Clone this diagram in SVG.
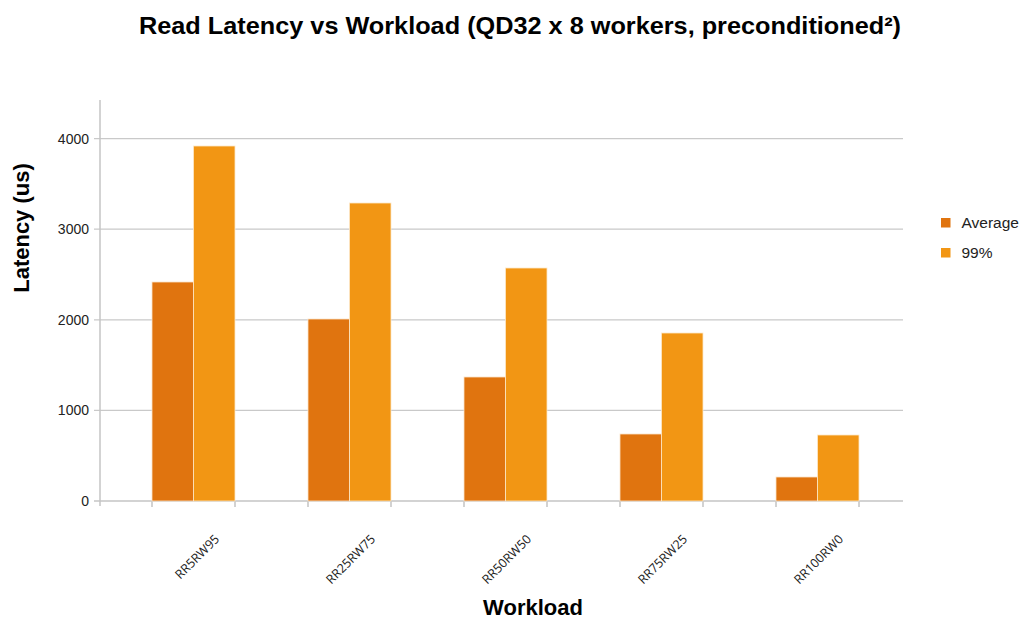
<svg xmlns="http://www.w3.org/2000/svg" width="1025" height="620" viewBox="0 0 1025 620">
<style>
.grid{stroke:#c9c9c9;stroke-width:1.3;fill:none}
.axis{stroke:#c4c4c4;stroke-width:1.5;fill:none}
.avg{fill:#e0740f;stroke:#fbe3c9;stroke-width:0.8}
.p99{fill:#f29614;stroke:#fde8c9;stroke-width:0.8}
.tick{font-family:"Liberation Sans",Arial,sans-serif;font-size:14px;fill:#222;text-anchor:end}
.cat{font-family:"Open Sans","Liberation Sans",sans-serif;font-size:12.5px;fill:#222;text-anchor:end}
.ttl{font-family:"Liberation Sans",Arial,sans-serif;font-weight:bold;fill:#000}
.leg{font-family:"Liberation Sans",Arial,sans-serif;font-size:15.5px;fill:#222}
</style>
<rect width="1025" height="620" fill="#fff"/>
<text class="ttl" x="520" y="34" font-size="24" text-anchor="middle" textLength="762" lengthAdjust="spacingAndGlyphs">Read Latency vs Workload (QD32 x 8 workers, preconditioned²)</text>
<g id="gridlines">
<line class="grid" x1="94" y1="138.6" x2="903" y2="138.6"/>
<line class="grid" x1="94" y1="229.2" x2="903" y2="229.2"/>
<line class="grid" x1="94" y1="319.8" x2="903" y2="319.8"/>
<line class="grid" x1="94" y1="410.4" x2="903" y2="410.4"/>
</g>
<g id="axes">
<line class="axis" x1="100" y1="100" x2="100" y2="506"/>
<line class="axis" x1="94" y1="501" x2="903" y2="501"/>
<path class="axis" d="M152 501v6M235 501v6M308 501v6M391 501v6M464 501v6M547 501v6M620 501v6M703 501v6M776 501v6M859 501v6"/>
</g>
<g id="yticks">
<text class="tick" x="89" y="143.6">4000</text>
<text class="tick" x="89" y="234.2">3000</text>
<text class="tick" x="89" y="324.8">2000</text>
<text class="tick" x="89" y="415.4">1000</text>
<text class="tick" x="89" y="506">0</text>
</g>
<g id="bars-average">
<rect class="avg" x="152" y="282" width="41.5" height="219"/>
<rect class="avg" x="308" y="319" width="41.5" height="182"/>
<rect class="avg" x="464" y="377" width="41.5" height="124"/>
<rect class="avg" x="620" y="434" width="41.5" height="67"/>
<rect class="avg" x="776" y="477" width="41.5" height="24"/>
</g>
<g id="bars-99">
<rect class="p99" x="193.5" y="146" width="41.5" height="355"/>
<rect class="p99" x="349.5" y="203" width="41.5" height="298"/>
<rect class="p99" x="505.5" y="268" width="41.5" height="233"/>
<rect class="p99" x="661.5" y="333" width="41.5" height="168"/>
<rect class="p99" x="817.5" y="435" width="41.5" height="66"/>
</g>
<g id="xlabels">
<text class="cat" transform="translate(220,540) rotate(-45)">RR5RW95</text>
<text class="cat" transform="translate(376,540) rotate(-45)">RR25RW75</text>
<text class="cat" transform="translate(532,540) rotate(-45)">RR50RW50</text>
<text class="cat" transform="translate(688,540) rotate(-45)">RR75RW25</text>
<text class="cat" transform="translate(844,540) rotate(-45)">RR100RW0</text>
</g>
<text class="ttl" x="533" y="615" font-size="22" text-anchor="middle">Workload</text>
<text class="ttl" transform="translate(29,228) rotate(-90)" font-size="22" text-anchor="middle">Latency (us)</text>
<g id="legend">
<rect x="941" y="218" width="9.5" height="9.5" fill="#e0740f"/>
<text class="leg" x="961.5" y="227.5">Average</text>
<rect x="941" y="248" width="9.5" height="9.5" fill="#f29614"/>
<text class="leg" x="961.5" y="257.5">99%</text>
</g>
</svg>
